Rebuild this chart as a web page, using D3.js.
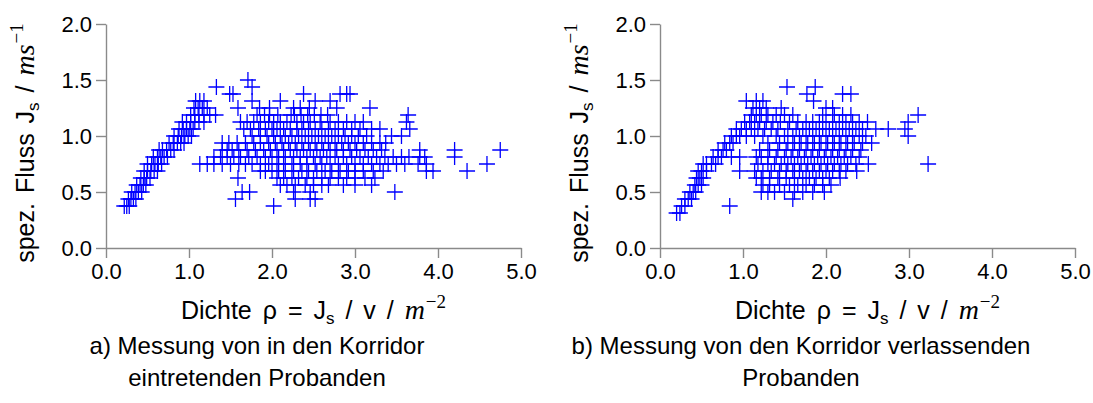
<!DOCTYPE html>
<html><head><meta charset="utf-8">
<script src="https://cdn.jsdelivr.net/npm/d3@7"></script>
<style>
body{margin:0;background:#fff}
svg{display:block}
text{font-family:"Liberation Sans",Arial,Helvetica,sans-serif;fill:#000}
</style></head><body>
<svg id="c" width="1093" height="403"></svg>
<script>
// tick values
const xTicks = [0, 1, 2, 3, 4, 5];
const yTicks = [0, 0.5, 1, 1.5, 2];

// entering (a): rows of [flow J_s, [density rho ...]]
const enteringRows = [
  [0.375, [0.22,0.25,0.28,2.02]],
  [0.4375,[0.27,0.30,0.33,0.36,1.56,2.28,2.46,2.52]],
  [0.5,   [0.31,0.35,0.39,0.43,1.64,1.73,2.26,2.46,3.48]],
  [0.5625,[0.37,0.41,0.45,0.48,2.10,2.18,2.28,2.40,2.50,2.60,2.68,2.86,3.00,3.20]],
  [0.625, [0.42,0.46,0.49,0.53,1.59,2.06,2.14,2.24,2.32,2.42,2.50,2.60,2.70,2.80,2.90,3.00,3.12,3.24]],
  [0.6875,[0.46,0.50,0.54,0.58,0.62,1.86,1.92,2.00,2.08,2.16,2.26,2.36,2.44,2.54,2.64,2.72,2.82,2.92,3.00,3.10,3.22,3.34,3.86,3.94,4.35]],
  [0.75,  [0.50,0.55,0.59,0.63,0.67,1.13,1.22,1.30,1.40,1.50,1.60,1.68,1.76,1.86,1.96,2.06,2.14,2.24,2.34,2.42,2.52,2.60,2.70,2.80,2.90,3.00,3.10,3.20,3.30,3.40,3.50,3.60,3.76,3.86,4.59]],
  [0.8125,[0.57,0.62,0.66,0.70,0.74,1.30,1.38,1.46,1.54,1.62,1.72,1.82,1.92,2.00,2.08,2.16,2.26,2.34,2.42,2.50,2.58,2.66,2.76,2.86,2.96,3.06,3.16,3.26,3.36,3.46,3.56,3.65,3.78,3.84,4.20]],
  [0.875, [0.64,0.68,0.73,0.78,0.82,1.40,1.46,1.52,1.60,1.70,1.80,1.90,1.98,2.06,2.14,2.22,2.30,2.38,2.46,2.54,2.62,2.70,2.78,2.86,2.94,3.02,3.12,3.22,3.32,3.78,4.20,4.75]],
  [0.9375,[0.76,0.81,0.86,0.90,0.94,1.40,1.48,1.58,1.68,1.78,1.86,1.96,2.04,2.12,2.20,2.28,2.36,2.44,2.52,2.60,2.68,2.76,2.84,2.92,3.00,3.10,3.20,3.30,3.37]],
  [1.0,   [0.82,0.87,0.91,0.95,0.99,1.03,1.76,1.86,1.94,2.02,2.10,2.16,2.24,2.32,2.40,2.48,2.56,2.64,2.72,2.80,2.88,2.96,3.04,3.14,3.44,3.56]],
  [1.0625,[0.88,0.93,0.97,1.01,1.05,1.66,1.74,1.84,1.92,2.00,2.06,2.14,2.22,2.30,2.36,2.44,2.52,2.60,2.68,2.76,2.86,2.96,3.06,3.20,3.30,3.66]],
  [1.125, [0.92,0.97,1.02,1.07,1.12,1.18,1.62,1.70,1.78,1.86,1.96,2.02,2.10,2.18,2.30,2.38,2.46,2.58,2.70,2.80,2.90,3.00,3.10,3.62]],
  [1.1875,[1.02,1.07,1.12,1.18,1.25,1.32,1.82,1.91,1.97,2.07,2.23,2.27,2.35,2.43,2.51,2.59,2.67,3.64]],
  [1.25,  [1.06,1.11,1.16,1.22,1.59,1.85,1.97,2.26,2.34,2.45,2.78,3.18]],
  [1.3125,[1.08,1.13,1.18,1.76,2.10,2.52,2.70]],
  [1.375, [1.49,1.53,2.38,2.82,2.90,2.94]],
  [1.4375,[1.33,1.76]],
  [1.5,   [1.71]]
];

// leaving (b)
const leavingRows = [
  [0.3125,[0.20,0.24]],
  [0.375, [0.26,0.30,0.84]],
  [0.4375,[0.30,0.34,0.38,1.60]],
  [0.5,   [0.36,0.40,0.43,1.22,1.30,1.38,1.50,1.62,1.72,1.84,1.98]],
  [0.5625,[0.42,0.46,0.50,1.24,1.32,1.44,1.56,1.66,1.76,1.86,1.96,2.06]],
  [0.625, [0.44,0.48,0.52,1.16,1.22,1.32,1.42,1.52,1.62,1.72,1.80,1.88,1.96,2.04,2.17]],
  [0.6875,[0.46,0.50,0.56,0.96,1.14,1.24,1.34,1.44,1.52,1.60,1.68,1.76,1.84,1.92,2.00,2.08,2.16,2.24,2.37]],
  [0.75,  [0.52,0.56,0.62,0.67,1.18,1.30,1.38,1.46,1.54,1.62,1.70,1.78,1.86,1.94,2.02,2.10,2.18,2.26,2.36,2.51,3.23]],
  [0.8125,[0.64,0.70,0.74,0.86,0.96,1.16,1.22,1.30,1.40,1.50,1.58,1.66,1.74,1.82,1.90,1.98,2.06,2.14,2.22,2.30,2.40]],
  [0.875, [0.70,0.76,0.80,1.20,1.32,1.42,1.52,1.60,1.68,1.76,1.84,1.92,2.00,2.08,2.16,2.24,2.32,2.42]],
  [0.9375,[0.78,0.84,0.88,1.30,1.44,1.54,1.62,1.70,1.78,1.86,1.94,2.02,2.10,2.18,2.26,2.34,2.44,2.55]],
  [1.0,   [0.86,0.92,0.96,1.04,1.14,1.24,1.40,1.50,1.60,1.68,1.76,1.84,1.92,2.00,2.08,2.16,2.24,2.32,2.40,2.48,2.99]],
  [1.0625,[0.92,0.98,1.04,1.10,1.18,1.26,1.34,1.42,1.54,1.64,1.72,1.80,1.88,1.96,2.04,2.12,2.20,2.28,2.36,2.44,2.60,2.75,2.95]],
  [1.125, [1.02,1.08,1.14,1.20,1.28,1.36,1.45,1.56,1.66,1.76,1.84,1.92,2.00,2.08,2.16,2.24,2.32,2.40,2.50,2.99]],
  [1.1875,[1.10,1.16,1.22,1.30,1.40,1.50,1.60,1.96,2.10,2.20,2.30,3.11]],
  [1.25,  [1.12,1.20,1.28,1.46,2.00,2.08]],
  [1.3125,[1.04,1.16,1.24,1.85]],
  [1.375, [1.77,2.20,2.30]],
  [1.4375,[1.53,1.87]]
];

const captionA = ["a) Messung von in den Korridor", "eintretenden Probanden"];
const captionB = ["b) Messung von den Korridor verlassenden", "Probanden"];

const flatten = rows => rows.flatMap(([f, rs]) => rs.map(r => [r, f]));

const svg = d3.select("#c");
const AXIS = "#8a8a8a";
const SERIF = '"Liberation Serif","DejaVu Serif",serif';

function mathTitle(t, plain, italic, sup) {
  t.append("tspan").text(plain[0]);
  t.append("tspan").attr("font-size", 17).attr("dy", 5).text("s");
  t.append("tspan").attr("dy", -5).text(plain[1]);
  t.append("tspan").attr("font-family", SERIF).attr("font-style", "italic")
    .attr("font-size", 28).text(italic);
  t.append("tspan").attr("font-family", SERIF).attr("font-size", 19)
    .attr("dx", 1).attr("dy", -11).text(sup);
}

function panel(rows, left, capCenter, caption) {
  const x = d3.scaleLinear().domain([0, 5]).range([left, left + 415]);
  const y = d3.scaleLinear().domain([0, 2]).range([248, 24]);
  const g = svg.append("g");

  const xa = g.append("g").attr("transform", "translate(0,248)")
    .call(d3.axisBottom(x).tickValues(xTicks).tickFormat(d3.format(".1f"))
      .tickSize(10).tickSizeOuter(0).tickPadding(5));
  const ya = g.append("g").attr("transform", `translate(${left},0)`)
    .call(d3.axisLeft(y).tickValues(yTicks).tickFormat(d3.format(".1f"))
      .tickSize(10).tickSizeOuter(0).tickPadding(4));
  [xa, ya].forEach(a => {
    a.selectAll("path,line").attr("stroke", AXIS).attr("stroke-width", 1.4);
    a.selectAll("text").attr("font-size", 22).attr("fill", "#000")
      .attr("font-family", '"Liberation Sans",Arial,sans-serif');
  });

  const m = 8;
  g.append("g").selectAll("path").data(flatten(rows)).join("path")
    .attr("d", d => `M${x(d[0]) - m},${y(d[1])}h${2 * m}M${x(d[0])},${y(d[1]) - m}v${2 * m}`)
    .attr("stroke", "#0000ff").attr("stroke-width", 1.3).attr("fill", "none");

  // x title
  const xt = g.append("text").attr("x", (left + left + 415) / 2).attr("y", 319)
    .attr("text-anchor", "middle").attr("font-size", 25).attr("word-spacing", 4);
  mathTitle(xt, ["Dichte \u03C1 = J", " / v / "], "m", "\u22122");

  // y title
  const yt = g.append("text").attr("transform", `translate(${left - 72},143) rotate(-90)`)
    .attr("text-anchor", "middle").attr("font-size", 25).attr("word-spacing", 3);
  mathTitle(yt, ["spez. Fluss J", " / "], "ms", "\u22121");

  caption.forEach((c, i) => {
    g.append("text").attr("x", capCenter).attr("y", 354 + i * 32)
      .attr("text-anchor", "middle").attr("font-size", 24).text(c);
  });
}

panel(enteringRows, 106, 257, captionA);
panel(leavingRows, 660, 801, captionB);
</script>
</body></html>
